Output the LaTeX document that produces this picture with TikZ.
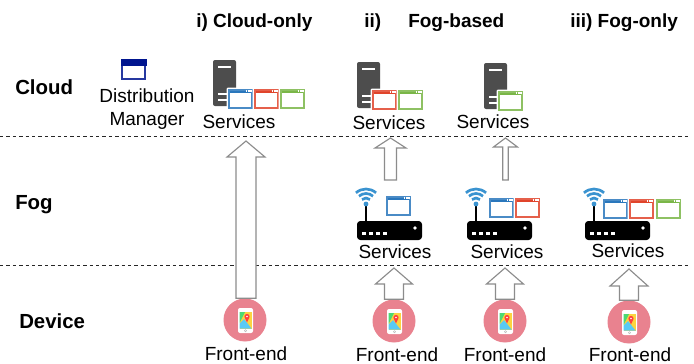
\documentclass[tikz,border=0pt]{standalone}
\usepackage{fontspec}
\setmainfont{Liberation Sans}
\usetikzlibrary{calc}
\definecolor{winblue}{HTML}{2A77BC}
\definecolor{winred}{HTML}{E0442B}
\definecolor{wingreen}{HTML}{7AB648}
\definecolor{winnavy}{HTML}{00158F}
\definecolor{srv}{HTML}{4D4D4D}
\definecolor{wifi}{HTML}{3A93D0}
\definecolor{fepink}{HTML}{E9828F}
\newcommand{\appwin}[3]{%
  \begin{scope}[shift={(#1,#2)}]
    \fill[white,rounded corners=1] (-1.5,-1.5) rectangle (26.5,21.5);
    \fill[#3] (0,0) rectangle (25,4);
    \draw[#3!85!white,line width=1.35] (0.7,0.7) rectangle (24.3,19.3);
    \foreach \d in {18,20.2,22.4}{\fill[white] (\d,1.4) rectangle (\d+1.3,2.7);}
  \end{scope}}
\newcommand{\serverbox}[2]{%
  \begin{scope}[shift={(#1,#2)}]
    \fill[srv,rounded corners=1.5] (0,0) rectangle (23,46);
    \draw[white,line width=1.1] (5,7) -- (18,7) (5,34) -- (18,34) (5,40) -- (18,40);
  \end{scope}}
\newcommand{\routerbox}[2]{%
  \begin{scope}[shift={(#1,#2)}]
    \draw[black,line width=2] (9,-15) -- (9,1);
    \fill[wifi] (9,-17) circle (2.4);
    \foreach \r in {6,10.5,15}{\draw[wifi,line width=2] ($(9,-17)+(-48:\r)$) arc[start angle=-48,end angle=-132,radius=\r];}
    \fill[black,rounded corners=2.5] (0,0) rectangle (65,19);
    \foreach \d in {7,14,21,28}{\fill[white] (\d-2,10.5) rectangle (\d+2,14);}
    \fill[white] (58,7) circle (1.8);
  \end{scope}}
\newcommand{\phoneicon}[2]{%
  \begin{scope}[shift={(#1,#2)}]
    \fill[white,rounded corners=1.5] (-7,-12) rectangle (8,13);
    \fill[yellow!60!orange!75!white] (-5.5,-8) rectangle (6.5,8.5);
    \fill[white!50!teal!60!green] (-5.5,-8) -- (0,-8) -- (-5.5,3) -- cycle;
    \fill[cyan!65!white] (-5.5,8.5) -- (-5.5,3.5) -- (-1,-1) -- (6.5,8.5) -- cycle;
    \fill[red!75!white] (2,-3.5) circle (2.6);
    \fill[red!75!white] (-0.3,-2.5) -- (2,2.5) -- (4.3,-2.5) -- cycle;
    \fill[white] (2,-3.5) circle (0.9);
    \draw[black!30,line width=0.3] (0.5,10.7) circle (1.1);
  \end{scope}}
\newcommand{\blockarrow}[5]{% tail, tip, shaft half width, head half width, head length
  \draw[arrowline] ($(#1)+(-#3,0)$) -- ($(#2)+(-#3,#5)$) -- ($(#2)+(-#4,#5)$) -- (#2)
     -- ($(#2)+(#4,#5)$) -- ($(#2)+(#3,#5)$) -- ($(#1)+(#3,0)$) -- cycle;}
\tikzset{
  lbl/.style={inner sep=0,anchor=base,font=\fontsize{14.25}{16}\selectfont,text=black},
  head/.style={inner sep=0,anchor=base west,font=\fontsize{14.25}{16}\selectfont\bfseries},
  tier/.style={inner sep=0,anchor=base west,font=\fontsize{15.3}{17}\selectfont\bfseries},
  tierline/.style={line width=0.75,black!85,dash pattern=on 2.6pt off 2.2pt},
  arrowline/.style={draw=black!45,fill=white,line width=0.85,line join=miter},
  fe/.style={circle,fill=fepink,minimum size=32.25pt,inner sep=0}
}
\begin{document}
\begin{tikzpicture}[x=0.75pt,y=-0.75pt]
\useasboundingbox (0,0) rectangle (694,364);
\fill[white] (0,0) rectangle (694,364);
% headers
\node[head] (h1) at (196,27) {i) Cloud-only};
\node[head] (h2) at (364,27) {ii)};
\node[head] (h2b) at (408,27) {Fog-based};
\node[head] (h3) at (570,27) {iii) Fog-only};
\node[tier] (tc) at (15,94) {Cloud};
\node[tier] (tf) at (15,209) {Fog};
\node[tier] (td) at (19,328) {Device};
% tier lines
\coordinate (l1a) at (0,136); \coordinate (l1b) at (690,136);
\coordinate (l2a) at (0,265); \coordinate (l2b) at (690,265);
\draw[tierline] (l1a) -- (l1b);
\draw[tierline] (l2a) -- (l2b);
% distribution manager
\appwin{121}{60}{winnavy}
\fill[winnavy] (121,59) rectangle (147,66);
\node[lbl] (dm1) at (147,102) {Distribution};
\node[lbl] (dm2) at (147,125) {Manager};
% cloud-only
\serverbox{213}{60}
\appwin{228}{89}{winblue}\appwin{254}{89}{winred}\appwin{280}{89}{wingreen}
\node[lbl] (s1) at (239,128) {Services};
% fog-based cloud servers
\serverbox{357}{62}
\appwin{372}{90}{winred}\appwin{398}{90}{wingreen}
\node[lbl] (s2) at (389,129) {Services};
\serverbox{484}{63}
\appwin{498}{91}{wingreen}
\node[lbl] (s3) at (493,128) {Services};
% routers
\routerbox{357}{221}
\appwin{386}{196}{winblue}
\node[lbl] (r1) at (395,258) {Services};
\routerbox{467}{221}
\appwin{489}{198}{winblue}\appwin{515}{198}{winred}
\node[lbl] (r2) at (507,258) {Services};
\routerbox{585}{221}
\appwin{603}{199}{winblue}\appwin{629}{199}{winred}\appwin{656}{199}{wingreen}
\node[lbl] (r3) at (628,257) {Services};
% front-ends
\node[fe] (f1) at (245,320) {};
\node[fe] (f2) at (394,321) {};
\node[fe] (f3) at (505,321) {};
\node[fe] (f4) at (629,322) {};
\phoneicon{245}{320}\phoneicon{394}{321}\phoneicon{505}{321}\phoneicon{629}{322}
\node[lbl] (t1) at (246,360.5) {Front-end};
\node[lbl] (t2) at (397,361) {Front-end};
\node[lbl] (t3) at (505,361) {Front-end};
\node[lbl] (t4) at (630,361) {Front-end};
% block arrows
\coordinate (a1) at (246,141);
\coordinate (a2) at (394,268);
\coordinate (a3) at (505,268);
\coordinate (a4) at (629,269);
\coordinate (c1) at (390.5,138); \coordinate (c1t) at (390.5,180);
\coordinate (c2) at (505.5,138); \coordinate (c2t) at (505.5,180);
\blockarrow{a1 |- f1.north}{a1}{10}{19}{16}
\blockarrow{a2 |- f2.north}{a2}{9.5}{18.5}{16}
\blockarrow{a3 |- f3.north}{a3}{9.5}{18.5}{16}
\blockarrow{a4 |- f4.north}{a4}{9.5}{19}{17}
\blockarrow{c1t}{c1}{6}{15.5}{10}
\blockarrow{c2t}{c2}{2.7}{12}{9}
\end{tikzpicture}
\end{document}
